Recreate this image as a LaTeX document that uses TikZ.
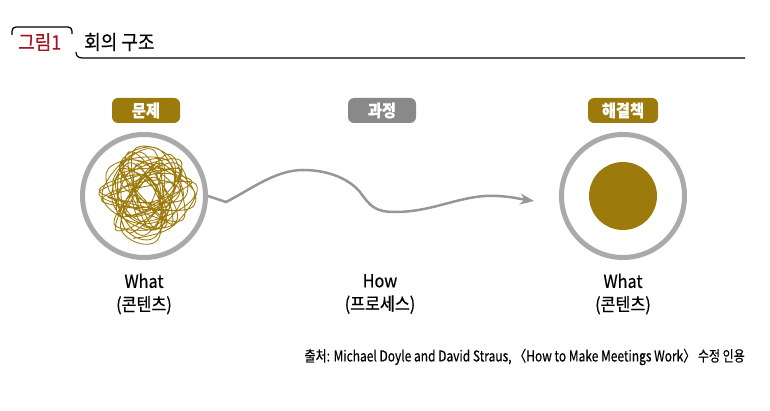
\documentclass[tikz,border=0pt]{standalone}
\usepackage{fontspec}
\setmainfont{Noto Sans CJK KR}[FakeStretch=0.9, FakeBold=0.4]
\newfontfamily\footfont{Noto Sans CJK KR}[FakeStretch=0.8, FakeBold=0.3]
\usetikzlibrary{arrows.meta}
\definecolor{gold}{RGB}{156,123,12}
\definecolor{ringgray}{RGB}{170,170,170}
\definecolor{curvegray}{RGB}{150,150,150}
\definecolor{badgegray}{RGB}{137,137,137}
\definecolor{figred}{RGB}{160,24,36}
\tikzset{
  badge/.style={rounded corners=6pt, minimum width=68pt, minimum height=25pt, inner sep=0pt,
    text=white, font=\fontsize{17}{17}\selectfont\bfseries},
  ring/.style={circle, draw=ringgray, line width=5pt, minimum size=123pt, inner sep=0pt},
  core/.style={circle, fill=gold, minimum size=68pt, inner sep=0pt},
  caption/.style={align=center, font=\fontsize{18}{23}\selectfont, inner sep=0pt},
  titletext/.style={font=\fontsize{20}{20}\selectfont, inner sep=0pt, anchor=west},
  scribble/.style={draw=gold, line width=0.85pt},
  flow/.style={draw=curvegray, line width=2.5pt, -{Stealth[length=14pt,width=11pt]}},
}
\begin{document}
\begin{tikzpicture}[x=1pt,y=-1pt]
\useasboundingbox (0,0) rectangle (770,411);
% title
\node[titletext, text=figred] (fig) at (18,42) {그림1};
\node[titletext] (title) at (84,42) {회의 구조};
\draw[line width=1.3pt, rounded corners=4pt] (12,35) -- (12,27) -- (72,27) -- (72,34);
\draw[line width=1.2pt] (76,52) .. controls (76,56) and (78,58) .. (83,58) -- (745,58);
% badges
\node[badge, fill=gold] (b1) at (146,110.5) {문제};
\node[badge, fill=badgegray] (b2) at (382,110.5) {과정};
\node[badge, fill=gold, minimum width=70pt] (b3) at (623,110.5) {해결책};
% scribble
\pgfmathsetseed{23}
\xdef\scang{0}
\gdef\sccoords{}
\foreach \i in {1,...,85}{
  \pgfmathsetmacro\newang{mod(\scang+55+120*rnd,360)}
  \pgfmathsetmacro\newrad{8+40*sqrt(rnd)}
  \xdef\scang{\newang}
  \xdef\sccoords{\sccoords (\newang:\newrad)}
}
\edef\scdraw{\noexpand\draw[scribble, shift={(147,195)}] plot[smooth, tension=0.7] coordinates {\sccoords};}
\scdraw
% circles
\node[ring] (c1) at (144,196) {};
\node[ring] (c3) at (623,196) {};
\node[core] (sol) at (623,196) {};
% connector
\coordinate (tip) at (534,201);
\draw[flow] (c1.east) -- (226,202) .. controls (250,190) and (275,170) .. (303,170)
  .. controls (330,170) and (350,180) .. (360,192)
  .. controls (370,206) and (375,212) .. (395,212)
  .. controls (430,212) and (455,198) .. (485,196)
  .. controls (505,195) and (520,199) .. (tip);
% captions
\node[caption] (l1) at (144,294) {What\\(콘텐츠)};
\node[caption] (l2) at (380,294) {How\\(프로세스)};
\node[caption] (l3) at (623,294) {What\\(콘텐츠)};
% footer
\node[anchor=east, inner sep=0pt, font=\footfont\fontsize{15}{15}\selectfont] (src) at (745,357)
  {출처: Michael Doyle and David Straus, 〈How to Make Meetings Work〉 수정 인용};
\end{tikzpicture}
\end{document}
